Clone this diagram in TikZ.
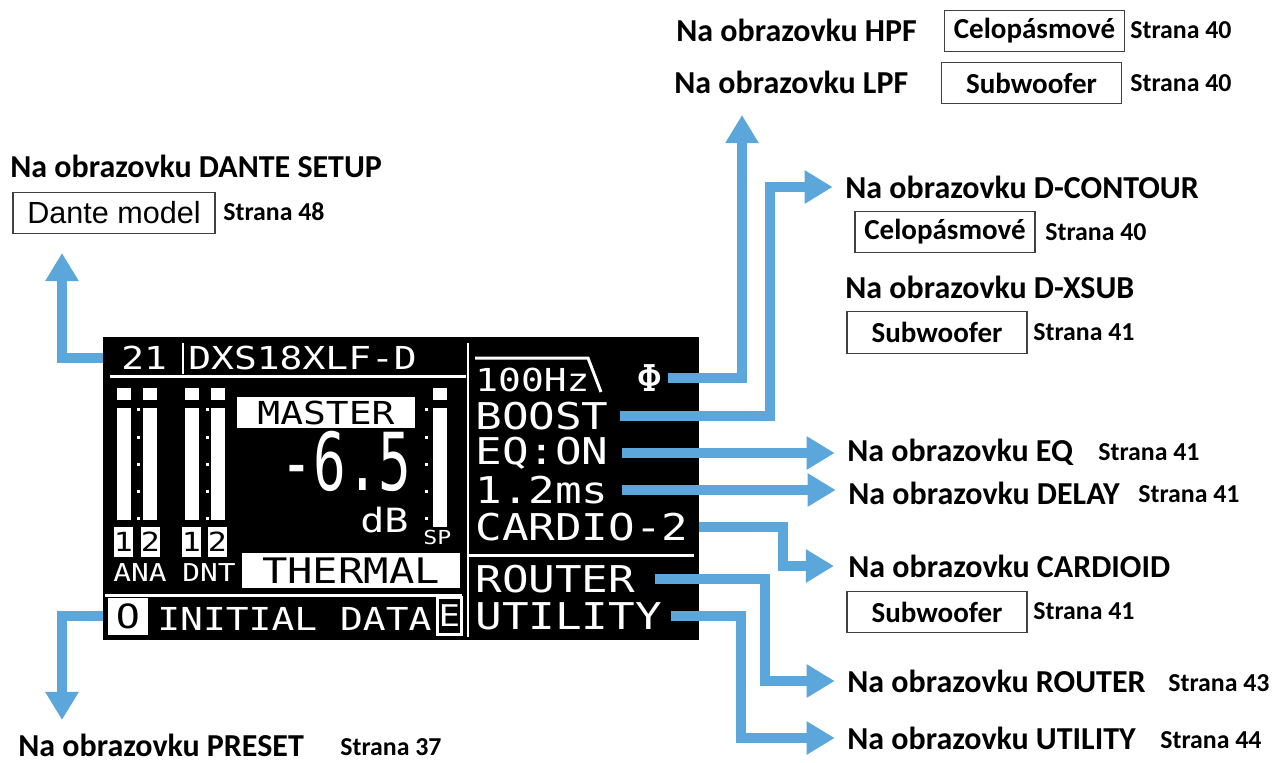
\documentclass[tikz,border=0pt]{standalone}
\usepackage{fontspec}
\setmainfont{Carlito}
\newfontfamily\lcdfont[FakeStretch=1.2]{DejaVu Sans Mono}
\newfontfamily\lcdtall[FakeStretch=0.68]{DejaVu Sans Mono}
\newfontfamily\dantefont{Liberation Sans}
\usepackage{tikz}
\usetikzlibrary{positioning,arrows.meta,calc}
\definecolor{arrowblue}{HTML}{5BA7DB}
\definecolor{boxline}{HTML}{404040}

\begin{document}
\begin{tikzpicture}[x=0.02cm, y=-0.02cm,
    lbl/.style={anchor=west, inner sep=0, font=\bfseries\fontsize{18.2}{20}\selectfont},
    pg/.style={anchor=west, inner sep=0, font=\bfseries\fontsize{14.7}{16}\selectfont},
    modebox/.style={draw=boxline, line width=0.8pt, minimum width=3.6cm,
      minimum height=0.83cm, inner sep=0, font=\bfseries\fontsize{16.5}{18}\selectfont},
    arr/.style={draw=arrowblue, line width=5.7pt, -{Triangle[width=18pt,length=16pt]}},
    lcd/.style={anchor=west, inner sep=0, text=white, font=\lcdfont\fontsize{#1}{#1}\selectfont},
    lcd/.default=21,
    inv/.style={fill=white, inner sep=0, text=black, font=\lcdfont\fontsize{#1}{#1}\selectfont},
    inv/.default=18,
    wline/.style={white, line width=1.7pt},
  ]
  \useasboundingbox (0,0) rectangle (1275,762);

  % display
  \node[fill=black, minimum width=11.92cm, minimum height=6.06cm, inner sep=0] (lcd) at (401,488.5) {};
  \node[lcd=18] (num) at (121,358) {21};
  \node[lcd=18] (model) at (188,358) {DXS18XLF-D};
  \draw[wline] (110,376) -- (466,376);
  \draw[wline] (183,343) -- (183,374);
  \draw[wline] (468,343) -- (468,637);
  \draw[wline] (468,555) -- (694,555);
  \draw[wline] (105,595) -- (462,595);

  % meters
  \foreach \x in {117,143,185,211} {
    \fill[white] (\x,388) rectangle ++(14,12);
    \fill[white] (\x,408) rectangle ++(14,112);
  }
  \fill[white] (433,388) rectangle ++(14,12);
  \fill[white] (433,408) rectangle ++(14,119);
  \foreach \x in {137,206,425}
    \foreach \y in {408,436,463,490,517}
      \fill[white] (\x,\y) rectangle ++(3,3);
  \foreach \x/\d [count=\i] in {123.5/1,150.5/2,191.5/1,217.5/2}
    \node[inv=15, minimum width=0.34cm, minimum height=0.6cm] (dig\i) at (\x,542) {\d};
  \node[lcd=14] (ana) at (113,573) {ANA};
  \node[lcd=14] (dnt) at (182,573) {DNT};

  \node[inv=18, minimum width=3.56cm, minimum height=0.62cm] (master) at (326,412.5) {MASTER};
  \node[anchor=east, inner sep=0, text=white, font=\lcdtall\fontsize{45.5}{46}\selectfont] (level) at (412,461) {-6.5};
  \node[lcd=19] (db) at (360,520) {dB};
  \node[lcd=11] (sp) at (423,537) {SP};
  \node[inv=20, minimum width=4.36cm, minimum height=0.7cm] (thermal) at (351,570.5) {THERMAL};
  \node[inv=19, minimum width=0.8cm, minimum height=0.74cm] (obox) at (128,616) {O};
  \node[lcd=18] (initial) at (157,619) {INITIAL DATA};
  \node[draw=white, line width=1.2pt, text=white, inner sep=0, minimum width=0.48cm,
    minimum height=0.74cm, font=\lcdfont\fontsize{17}{17}\selectfont] (ebox) at (449.5,616) {E};

  \draw[wline] (475,358) -- (588,358) -- (601,392);
  \node[lcd=18] (hz) at (475,380) {100Hz};
  \node[lcd] (phi) at (636,378) {Φ};
  \node[lcd] (boost) at (475,416) {BOOST};
  \node[lcd] (eq) at (475,453) {EQ:ON};
  \node[lcd] (delay) at (475,490) {1.2ms};
  \node[lcd] (cardio) at (475,527) {CARDIO-2};
  \node[lcd] (router) at (475,579) {ROUTER};
  \node[lcd] (utility) at (475,616) {UTILITY};

  % labels
  \node[lbl] (hpf) at (676,30) {Na obrazovku HPF};
  \node[modebox] (hpfbox) at (1034.5,31) {Celopásmové};
  \node[pg] (hpfpg) at (1130,30) {Strana 40};
  \node[lbl] (lpf) at (674,82) {Na obrazovku LPF};
  \node[modebox] (lpfbox) at (1031.5,83) {Subwoofer};
  \node[pg] (lpfpg) at (1130,83) {Strana 40};

  \node[lbl] (dcontour) at (845,187) {Na obrazovku D-CONTOUR};
  \node[modebox] (contourbox) at (945,232) {Celopásmové};
  \node[pg] (contourpg) at (1045,232) {Strana 40};
  \node[lbl] (dxsub) at (845,287) {Na obrazovku D-XSUB};
  \node[modebox] (xsubbox) at (937,332.5) {Subwoofer};
  \node[pg] (xsubpg) at (1033,332) {Strana 41};

  \node[lbl] (eqlbl) at (847,452) {Na obrazovku EQ};
  \node[pg] (eqpg) at (1098,452) {Strana 41};
  \node[lbl] (delaylbl) at (848,493) {Na obrazovku DELAY};
  \node[pg] (delaypg) at (1138,494) {Strana 41};
  \node[lbl] (cardiolbl) at (848,566) {Na obrazovku CARDIOID};
  \node[modebox] (cardiobox) at (937,612) {Subwoofer};
  \node[pg] (cardiopg) at (1033,611) {Strana 41};
  \node[lbl] (routerlbl) at (847,681) {Na obrazovku ROUTER};
  \node[pg] (routerpg) at (1168,683) {Strana 43};
  \node[lbl] (utillbl) at (847,738) {Na obrazovku UTILITY};
  \node[pg] (utilpg) at (1160,740) {Strana 44};

  \node[lbl] (dantelbl) at (10,166) {Na obrazovku DANTE SETUP};
  \node[modebox, minimum width=4.04cm, font=\dantefont\fontsize{17.4}{18}\selectfont] (dantebox) at (114,213) {Dante model};
  \node[pg] (dantepg) at (223,212) {Strana 48};
  \node[lbl] (presetlbl) at (18,745) {Na obrazovku PRESET};
  \node[pg] (presetpg) at (340,747) {Strana 37};

  % arrows
  \coordinate (dantetip) at (62,253);
  \coordinate (presettip) at (62,720);
  \coordinate (hpftip) at (742,115);
  \draw[arr] (lcd.west |- num) -| (dantetip);
  \draw[arr] (lcd.west |- obox) -| (presettip);
  \draw[arr] ($(phi.east)+(5,0)$) -| (hpftip);
  \draw[arr, shorten >=7pt] ($(boost.east)+(11,0)$) -- ++(150,0) |- (dcontour.west);
  \draw[arr, shorten >=7pt] ($(eq.east)+(13,0)$) -- (eq.east -| eqlbl.west);
  \draw[arr, shorten >=7pt] ($(delay.east)+(13,0)$) -- (delay.east -| delaylbl.west);
  \draw[arr, shorten >=8pt] (lcd.east |- cardio) -- ++(84,0) |- (cardiolbl.west);
  \draw[arr, shorten >=7pt] ($(router.east)+(19,0)$) -- ++(110,0) |- (routerlbl.west);
  \draw[arr, shorten >=7pt] ($(utility.east)+(9,0)$) -- ++(70,0) |- (utillbl.west);
\end{tikzpicture}
\end{document}
